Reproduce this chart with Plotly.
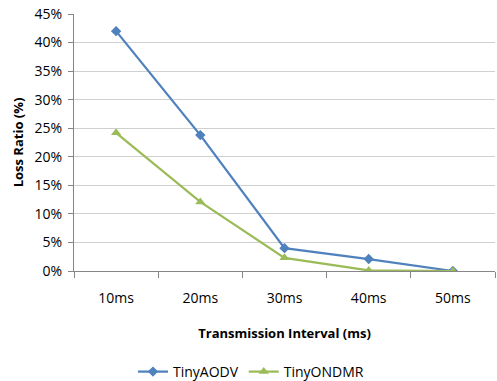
import plotly.graph_objects as go

categories = ["10ms", "20ms", "30ms", "40ms", "50ms"]
tiny_aodv = [0.42, 0.238, 0.040, 0.021, 0.0]
tiny_ondmr = [0.242, 0.121, 0.023, 0.001, 0.0]
y_ticks = [0, 0.05, 0.10, 0.15, 0.20, 0.25, 0.30, 0.35, 0.40, 0.45]

fig = go.Figure()
fig.add_trace(go.Scatter(x=categories, y=tiny_aodv, name="TinyAODV", mode="lines+markers",
                         line=dict(color="#4F81BD", width=2.25),
                         marker=dict(symbol="diamond", size=8, color="#4F81BD")))
fig.add_trace(go.Scatter(x=categories, y=tiny_ondmr, name="TinyONDMR", mode="lines+markers",
                         line=dict(color="#9BBB59", width=2.25),
                         marker=dict(symbol="triangle-up", size=9, color="#9BBB59")))

font = "Open Sans, DejaVu Sans, sans-serif"
fig.update_layout(
    width=497, height=381,
    margin=dict(l=74, r=2, t=14, b=110, autoexpand=False),
    paper_bgcolor="white", plot_bgcolor="white",
    font=dict(family=font, size=14, color="black"),
    showlegend=True,
    legend=dict(orientation="h", xref="container", x=0.505, xanchor="center",
                yref="container", y=9 / 381, yanchor="middle",
                font=dict(size=14), itemwidth=30),
    xaxis=dict(type="category", showgrid=False, showline=True, linecolor="#868686",
               ticks="outside", tickson="boundaries", ticklen=6, tickcolor="#868686",
               title=dict(text="<b>Transmission Interval (ms)</b>", standoff=23, font=dict(size=13)),
               ticklabelstandoff=14, range=[-0.5, 4.5], automargin=False),
    yaxis=dict(range=[0, 0.45], tickvals=y_ticks, tickformat=".0%", showgrid=True,
               gridcolor="#D0D0D0", gridwidth=1, showline=True, linecolor="#868686",
               ticks="outside", ticklen=5, tickcolor="#868686", zeroline=False,
               ticklabelstandoff=3, automargin=False,
               title=dict(text="<b>Loss Ratio (%)</b>", standoff=8, font=dict(size=13))),
)

fig.write_html("out.html")
